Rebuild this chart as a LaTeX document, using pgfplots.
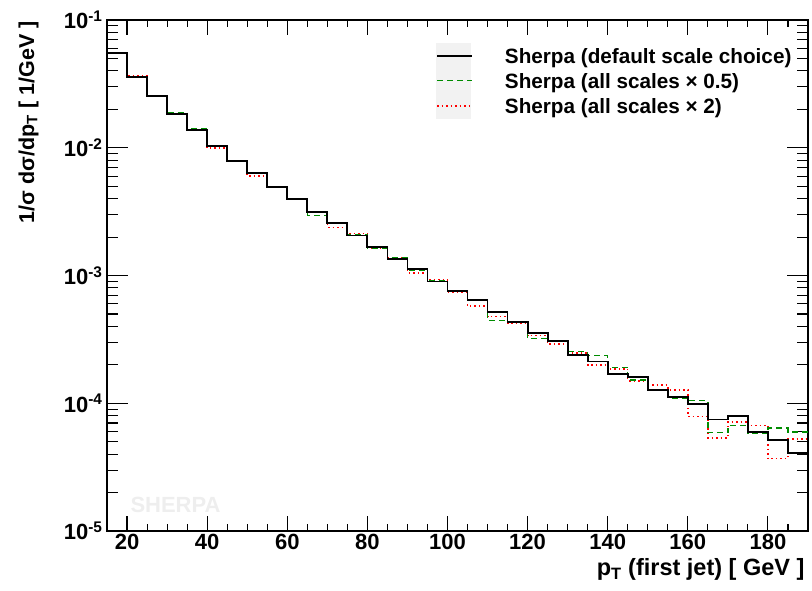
\documentclass[border=0pt]{standalone}
\usepackage{fontspec}
\setmainfont{Liberation Sans}
\usepackage{pgfplots}
\usepackage{pgfplotstable}
\pgfplotsset{compat=1.18}

\definecolor{rootgreen}{RGB}{0,140,0}
\definecolor{legbg}{RGB}{242,242,242}
\definecolor{wmark}{RGB}{238,238,238}
\newcommand{\ticklbl}{\fontsize{22}{24}\selectfont\bfseries}
\newcommand{\leglbl}{\fontsize{20.7}{23}\selectfont\bfseries}
\newcommand{\xlbl}{\fontsize{23.5}{26}\selectfont\bfseries}
\newcommand{\ylbl}{\fontsize{21.5}{24}\selectfont\bfseries}

% bin left edges (last row repeats the final bin to close the step)
\pgfplotstableread{
x    def        half       two
15   0.0555     0.0555     0.0555
20   0.0360     0.0360     0.0363
25   0.0254     0.0254     0.0254
30   0.0185     0.0190     0.0185
35   0.01368    0.0141     0.01368
40   0.01033    0.01033    0.0100
45   0.00793    0.00793    0.00793
50   0.00634    0.00634    0.0060
55   0.00493    0.00493    0.00493
60   0.00397    0.00397    0.00397
65   0.00314    0.00296    0.00314
70   0.00259    0.00259    0.00237
75   0.00206    0.0021     0.00214
80   0.00166    0.00164    0.00164
85   0.00135    0.00137    0.00137
90   0.00113    0.0011     0.00105
95   0.000897   0.00091    0.00093
100  0.000754   0.000754   0.00074
105  0.000641   0.00065    0.000575
110  0.000518   0.000443   0.000476
115  0.000435   0.00043    0.00042
120  0.000355   0.000322   0.000339
125  0.000305   0.00031    0.000292
130  0.00024    0.000255   0.000248
135  0.000212   0.000236   0.0002
140  0.000169   0.000191   0.000186
145  0.000161   0.000152   0.000149
150  0.000127   0.000127   0.000139
155  0.000112   0.00011    0.000127
160  0.0000988  0.000105   0.0000786
165  0.0000745  0.0000587  0.0000535
170  0.0000793  0.0000666  0.0000715
175  0.00006    0.0000578  0.000067
180  0.0000519  0.000064   0.0000369
185  0.0000408  0.0000596  0.0000527
190  0.0000408  0.0000596  0.0000527
}\spectrum

\begin{document}
\begin{tikzpicture}
% main axis: data, y ticks
\begin{axis}[
    name=ax,
    scale only axis,
    width=701pt, height=511pt,
    xmin=15, xmax=190,
    ymode=log, ymin=1e-5, ymax=1e-1,
    xtick=\empty,
    tick align=inside,
    tick pos=both,
    major tick length=21pt,
    minor tick length=11pt,
    every tick/.style={black, line width=1.1pt},
    axis line style={line width=1.6pt},
    /pgf/number format/assume math mode=true,
    yticklabel={10\textsuperscript{\pgfmathparse{int(round(\tick/ln(10)))}\pgfmathresult}},
    yticklabel style={font=\ticklbl, xshift=-1pt},
    ylabel={1/σ dσ/dp\textsubscript{T} [ 1/GeV ]},
    ylabel style={font=\ylbl, at={(axis description cs:-0.112,1.004)}, anchor=east},
    reverse legend,
    legend cell align=left,
    legend image code/.code={\draw[#1] (0pt,2.5pt) -- (35pt,2.5pt);},
    legend style={draw=none, fill=none, font=\leglbl,
        at={(axis description cs:0.4693,0.945)}, anchor=north west,
        inner sep=0pt, column sep=32pt, row sep=5pt,
        nodes={inner sep=0pt, text height=15pt, text depth=5pt}},
]
\fill[legbg] (axis description cs:0.4693,0.806) rectangle (axis description cs:0.5193,0.955);
\node[anchor=base west, text=wmark, font=\fontsize{22}{24}\selectfont\bfseries]
    at (axis description cs:0.0285,0.037) {SHERPA};
\addplot[const plot, red, line width=1.5pt, dash pattern=on 1.5pt off 3pt] table[x=x, y=two] {\spectrum};
\addlegendentry{Sherpa (all scales × 2)}
\addplot[const plot, rootgreen, line width=1.3pt, dash pattern=on 6pt off 4pt] table[x=x, y=half] {\spectrum};
\addlegendentry{Sherpa (all scales × 0.5)}
\addplot[const plot, black, line width=1.8pt] table[x=x, y=def] {\spectrum};
\addlegendentry{Sherpa (default scale choice)}
\end{axis}
% overlay axis: x ticks and labels only
\begin{axis}[
    scale only axis,
    width=701pt, height=511pt,
    xmin=15, xmax=190, ymin=0, ymax=1,
    axis line style={draw=none},
    ytick=\empty,
    xtick={20,40,...,180},
    minor xtick={15,20,...,190},
    tick align=inside,
    tick pos=both,
    major tick length=15pt,
    minor tick length=7.5pt,
    every tick/.style={black, line width=1.1pt},
    /pgf/number format/assume math mode=true,
    xticklabel style={font=\ticklbl},
    xlabel={p\textsubscript{T} (first jet) [ GeV ]},
    xlabel style={font=\xlbl, at={(axis description cs:1,-0.076)}, anchor=east},
]
\end{axis}
\path (ax.south west) ++(-107pt,-59pt) rectangle ++(812pt,590pt);
\end{tikzpicture}
\end{document}
